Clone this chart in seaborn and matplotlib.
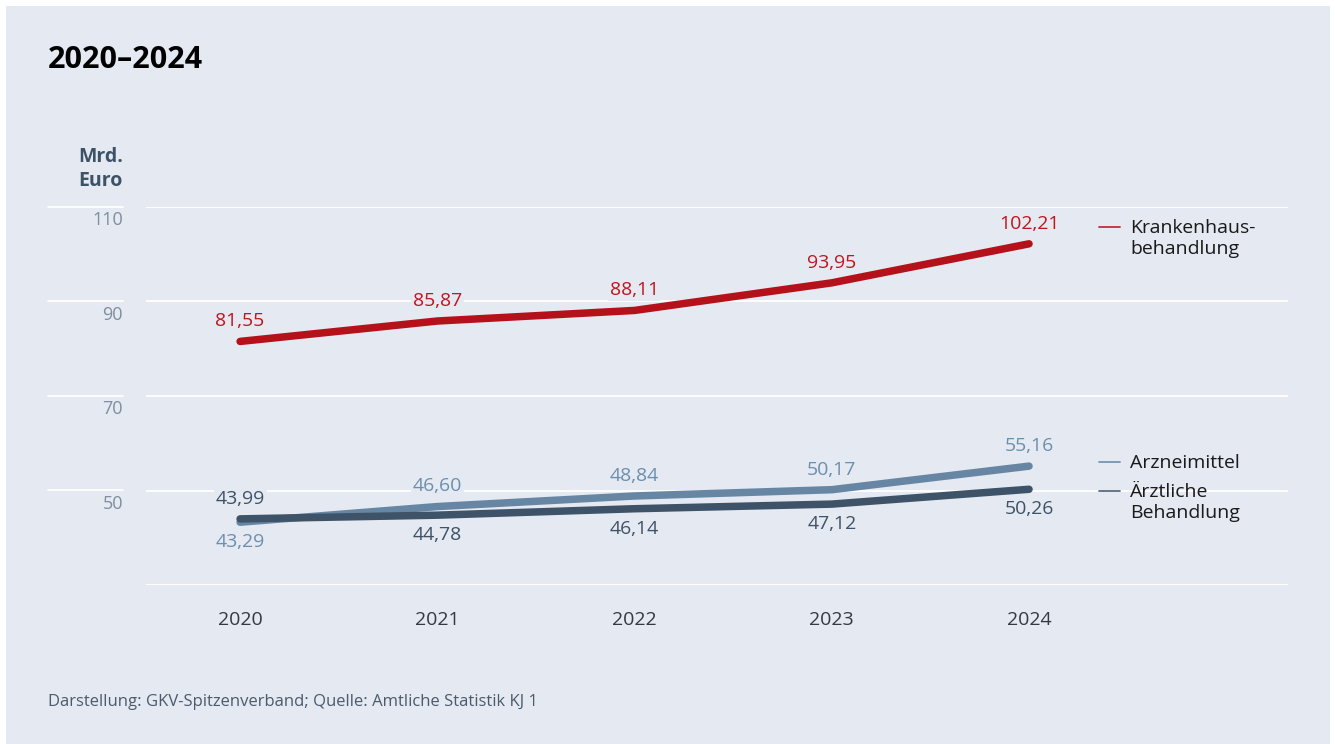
import numpy as np
import pandas as pd
import matplotlib
matplotlib.use("Agg")
import matplotlib.pyplot as plt
from matplotlib import font_manager as fm
import seaborn as sns

# INPUT
years = [2020, 2021, 2022, 2023, 2024]
krankenhaus = [81.55, 85.87, 88.11, 93.95, 102.21]
arznei = [43.29, 46.60, 48.84, 50.17, 55.16]
aerztlich = [43.99, 44.78, 46.14, 47.12, 50.26]
series_names = ["Krankenhaus-\nbehandlung", "Arzneimittel", "Ärztliche\nBehandlung"]
y_ticks = [30, 50, 70, 90, 110]

bg = "#e4e9f2"
red, blue, dark = "#b5111b", "#6786a4", "#3e5367"
label_cols = {series_names[0]: "#c0161f", series_names[1]: "#6d8fae", series_names[2]: "#3f5266"}

df = pd.DataFrame({
    "Jahr": years * 3,
    "Wert": krankenhaus + arznei + aerztlich,
    "Bereich": [series_names[0]] * 5 + [series_names[1]] * 5 + [series_names[2]] * 5,
})

# use the static Open Sans files, not the variable one
fm.fontManager.ttflist = [f for f in fm.fontManager.ttflist if "[" not in f.fname]
try:
    fm.fontManager._findfont_cached.cache_clear()
except Exception:
    pass

sns.set_theme(style="white")
plt.rcParams["font.family"] = ["Open Sans", "DejaVu Sans"]

W, H = 1335, 744
fig = plt.figure(figsize=(W / 100, H / 100), dpi=100)
fig.patch.set_facecolor("white")
# panel
fig.patches.append(plt.Rectangle((6 / W, 0), (1330 - 6) / W, (H - 6) / H, transform=fig.transFigure,
                                 facecolor=bg, edgecolor="none", zorder=-10))


def fx(px):
    return px / W


def fy(py):
    return 1 - py / H


ax = fig.add_axes([fx(146), fy(585), fx(1288) - fx(146), fy(207) - fy(585)])
ax.set_facecolor("none")
ax.set_xlim(2019.523, 2025.313)
ax.set_ylim(30, 110)

for t in y_ticks:
    ax.axhline(t, color="white", lw=1.3, zorder=0)

palette = {series_names[0]: red, series_names[1]: blue, series_names[2]: dark}
sns.lineplot(data=df, x="Jahr", y="Wert", hue="Bereich", palette=palette, lw=5.4,
             legend=False, ax=ax, zorder=3, solid_capstyle="round", clip_on=False)
# dark line drawn on top of the light blue one
for line in ax.lines:
    if line.get_color() == dark:
        line.set_zorder(4)

sns.despine(ax=ax, left=True, bottom=True)
ax.set_xticks([])
ax.set_yticks([])
ax.set_xlabel("")
ax.set_ylabel("")

# value labels: +1 above, -1 below
positions = {
    series_names[0]: [1, 1, 1, 1, 1],
    series_names[1]: [-1, 1, 1, 1, 1],
    series_names[2]: [1, -1, -1, -1, -1],
}
for name, vals in zip(series_names, [krankenhaus, arznei, aerztlich]):
    for yr, v, pos in zip(years, vals, positions[name]):
        ax.annotate(f"{v:.2f}".replace(".", ","), (yr, v), xytext=(0, 14.5 * pos),
                    textcoords="offset points", ha="center", va="center",
                    fontsize=14, color=label_cols[name], zorder=5,
                    bbox=dict(boxstyle="square,pad=0.1", fc=bg, ec="none"))

# x labels
for yr in years:
    ax.annotate(str(yr), (yr, 30), xytext=(0, -25.5), textcoords="offset points",
                ha="center", va="center", fontsize=14, color="#333a40")

# y labels and short left grid segments
for t in y_ticks[1:]:
    yy = ax.transData.transform((0, t))[1] / H
    fig.add_artist(plt.Line2D([fx(48), fx(123)], [yy, yy], color="white", lw=1.3))
    fig.text(fx(123), yy - 13.5 / H, str(t), ha="right", va="center", fontsize=13, color="#7d8fa0")

fig.text(fx(123), fy(169), "Mrd.\nEuro", ha="right", va="center", fontsize=14,
         fontweight="bold", color="#3d5266", linespacing=1.2)

fig.text(fx(48), fy(60), "2020–2024", ha="left", va="center", fontsize=22,
         fontweight="bold", color="black")
fig.text(fx(48), fy(702), "Darstellung: GKV-Spitzenverband; Quelle: Amtliche Statistik KJ 1",
         ha="left", va="center", fontsize=12, color="#4b5b6c")

# legend
legend_items = [(series_names[0], red, 227), (series_names[1], blue, 462), (series_names[2], dark, 491)]
for name, col, py in legend_items:
    fig.add_artist(plt.Line2D([fx(1099), fx(1120)], [fy(py), fy(py)], color=col, lw=1.3, alpha=0.85))
    fig.text(fx(1130), fy(py - 8), name, ha="left", va="top", fontsize=14, color="#1a1a1a",
             linespacing=1.2)

fig.savefig("out.png", dpi=100, facecolor=fig.get_facecolor())
